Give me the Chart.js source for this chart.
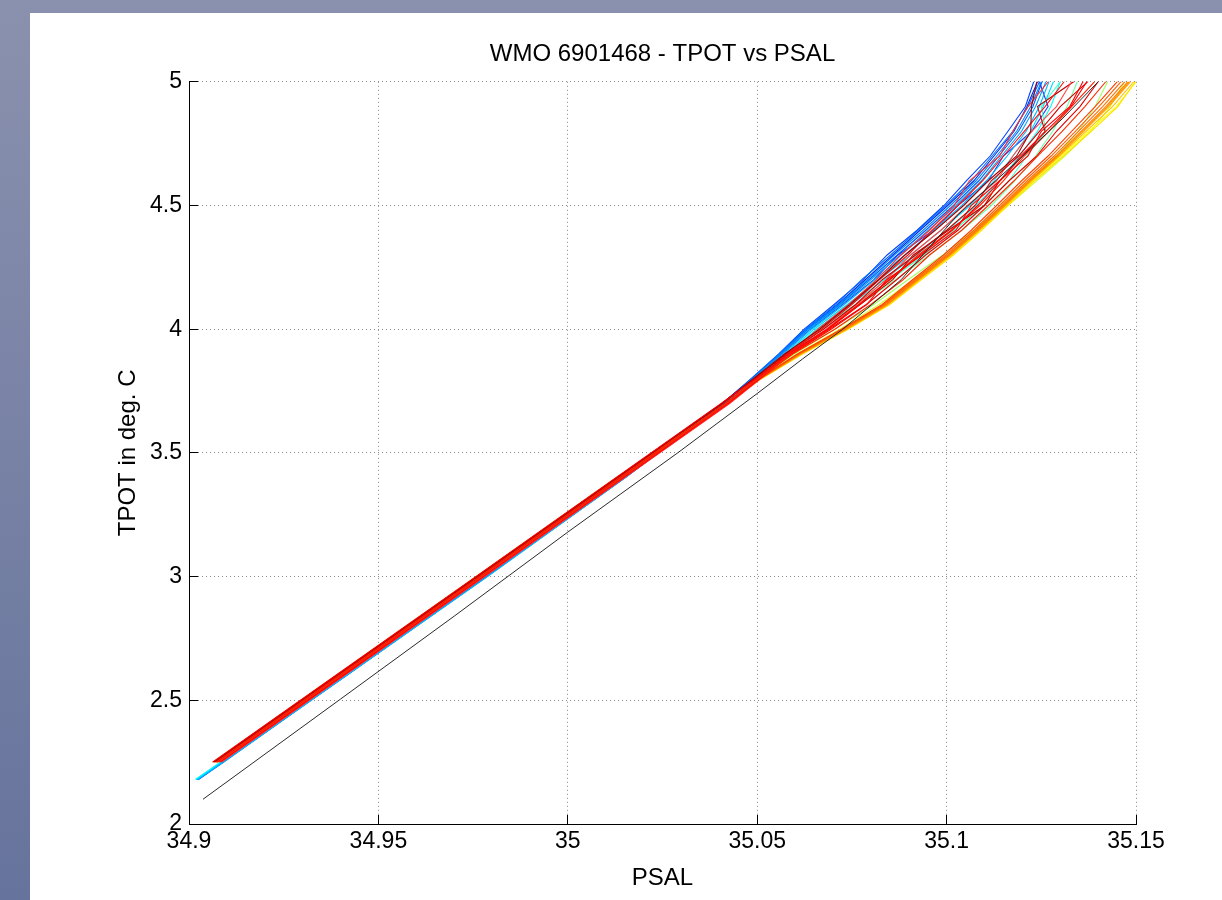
<!DOCTYPE html>
<html><head><meta charset="utf-8">
<script src="https://cdn.jsdelivr.net/npm/chart.js@4/dist/chart.umd.min.js"></script>
<style>
html,body{margin:0;padding:0;width:1222px;height:900px;overflow:hidden;background:linear-gradient(180deg,#8a91ae 0%,#66739c 100%);}
#panel{position:absolute;left:30px;top:13px;width:1192px;height:887px;background:#fff;}
canvas{display:block;}
</style></head>
<body><div id="panel"><canvas id="c" width="1192" height="887"></canvas></div>
<script>
// ---- data ----
const chartTitle = 'WMO 6901468 - TPOT vs PSAL';
const xAxisTitle = 'PSAL';
const yAxisTitle = 'TPOT in deg. C';
const xTickValues = [34.9, 34.95, 35, 35.05, 35.1, 35.15];
const xTickLabels = ['34.9', '34.95', '35', '35.05', '35.1', '35.15'];
const yTickValues = [2, 2.5, 3, 3.5, 4, 4.5, 5];
const yTickLabels = ['2', '2.5', '3', '3.5', '4', '4.5', '5'];

// TPOT levels at which each profile's PSAL was read
const tpotLevels = [2.18, 2.25, 2.6, 3.0, 3.4, 3.7, 3.8, 3.9, 4.0, 4.1, 4.2, 4.3, 4.4, 4.5, 4.6, 4.7, 4.8, 4.9, 5.0, 5.1];

// blue cycles
const psalC01 = [34.9023, 34.9089, 34.9412, 34.9783, 35.0150, 35.0410, 35.0486, 35.0560, 35.0630, 35.0712, 35.0785, 35.0858, 35.0930, 35.1003, 35.1072, 35.1125, 35.1178, 35.1212, 35.1240, 35.1262];
const psalC02 = [34.9021, 34.9087, 34.9414, 34.9781, 35.0146, 35.0408, 35.0484, 35.0557, 35.0624, 35.0703, 35.0780, 35.0843, 35.0922, 35.0993, 35.1052, 35.1115, 35.1162, 35.1208, 35.1230, 35.1258];
const psalC03 = [34.9024, 34.9090, 34.9411, 34.9784, 35.0152, 35.0412, 35.0488, 35.0563, 35.0634, 35.0718, 35.0795, 35.0870, 35.0945, 35.1018, 35.1085, 35.1138, 35.1190, 35.1228, 35.1252, 35.1270];
const psalC04 = [34.9022, 34.9088, 34.9413, 34.9785, 35.0144, 35.0409, 35.0487, 35.0566, 35.0640, 35.0725, 35.0808, 35.0872, 35.0965, 35.1030, 35.1110, 35.1150, 35.1225, 35.1268, 35.1245, 35.1295];
const psalC05 = [34.9025, 34.9091, 34.9415, 34.9782, 35.0150, 35.0413, 35.0485, 35.0558, 35.0627, 35.0708, 35.0776, 35.0852, 35.0925, 35.0998, 35.1065, 35.1120, 35.1175, 35.1215, 35.1245, 35.1265];
const psalC06 = [34.9020, 34.9086, 34.9416, 34.9786, 35.0148, 35.0411, 35.0488, 35.0561, 35.0632, 35.0715, 35.0790, 35.0862, 35.0938, 35.1010, 35.1078, 35.1132, 35.1185, 35.1222, 35.1250, 35.1272];
const psalC07 = [34.9023, 34.9092, 34.9414, 34.9787, 35.0152, 35.0414, 35.0490, 35.0566, 35.0638, 35.0722, 35.0800, 35.0878, 35.0952, 35.1025, 35.1092, 35.1145, 35.1198, 35.1235, 35.1262, 35.1282];
const psalC08 = [34.9021, 34.9089, 34.9415, 34.9788, 35.0151, 35.0414, 35.0492, 35.0570, 35.0644, 35.0730, 35.0810, 35.0890, 35.0965, 35.1040, 35.1105, 35.1160, 35.1210, 35.1245, 35.1270, 35.1290];
// cyan / green cycles
const psalC09 = [34.9018, 34.9083, 34.9408, 34.9777, 35.0146, 35.0416, 35.0495, 35.0574, 35.0650, 35.0738, 35.0822, 35.0905, 35.0985, 35.1062, 35.1125, 35.1175, 35.1222, 35.1255, 35.1282, 35.1300];
const psalC10 = [34.9017, 34.9084, 34.9409, 34.9779, 35.0147, 35.0418, 35.0497, 35.0577, 35.0656, 35.0748, 35.0835, 35.0920, 35.1002, 35.1078, 35.1140, 35.1192, 35.1240, 35.1275, 35.1300, 35.1318];
const psalC11 = [null, 34.9070, 34.9393, 34.9764, 35.0133, 35.0416, 35.0500, 35.0580, 35.0664, 35.0760, 35.0852, 35.0940, 35.1020, 35.1098, 35.1165, 35.1212, 35.1262, 35.1250, 35.1300, 35.1330];
const psalC12 = [null, 34.9066, 34.9390, 34.9760, 35.0130, 35.0418, 35.0502, 35.0585, 35.0672, 35.0770, 35.0865, 35.0955, 35.1040, 35.1118, 35.1180, 35.1235, 35.1280, 35.1318, 35.1345, 35.1365];
const psalC13 = [null, 34.9065, 34.9389, 34.9759, 35.0129, 35.0420, 35.0505, 35.0598, 35.0705, 35.0808, 35.0898, 35.0990, 35.1072, 35.1150, 35.1222, 35.1290, 35.1348, 35.1392, 35.1425, 35.1445];
const psalC14 = [null, 34.9064, 34.9388, 34.9758, 35.0128, 35.0421, 35.0507, 35.0605, 35.0718, 35.0822, 35.0912, 35.1005, 35.1085, 35.1162, 35.1238, 35.1312, 35.1380, 35.1432, 35.1470, 35.1495];
// yellow / orange cycles
const psalC15 = [null, 34.9065, 34.9390, 34.9760, 35.0130, 35.0421, 35.0510, 35.0618, 35.0738, 35.0848, 35.0930, 35.1015, 35.1088, 35.1158, 35.1228, 35.1302, 35.1375, 35.1448, 35.1500, 35.1540];
const psalC16 = [null, 34.9066, 34.9391, 34.9761, 35.0131, 35.0422, 35.0511, 35.0620, 35.0740, 35.0850, 35.0933, 35.1018, 35.1092, 35.1162, 35.1232, 35.1308, 35.1382, 35.1452, 35.1498, 35.1535];
const psalC17 = [null, 34.9068, 34.9393, 34.9763, 35.0133, 35.0421, 35.0510, 35.0617, 35.0737, 35.0846, 35.0928, 35.1012, 35.1086, 35.1156, 35.1225, 35.1298, 35.1368, 35.1438, 35.1494, 35.1532];
const psalC18 = [null, 34.9070, 34.9395, 34.9765, 35.0135, 35.0421, 35.0509, 35.0615, 35.0735, 35.0844, 35.0926, 35.1010, 35.1085, 35.1155, 35.1222, 35.1295, 35.1362, 35.1428, 35.1485, 35.1525];
const psalC19 = [null, 34.9071, 34.9396, 34.9766, 35.0136, 35.0420, 35.0508, 35.0613, 35.0732, 35.0842, 35.0924, 35.1008, 35.1082, 35.1152, 35.1220, 35.1292, 35.1358, 35.1424, 35.1482, 35.1522];
const psalC20 = [null, 34.9072, 34.9397, 34.9767, 35.0137, 35.0420, 35.0508, 35.0612, 35.0730, 35.0840, 35.0922, 35.1006, 35.1080, 35.1150, 35.1218, 35.1290, 35.1355, 35.1420, 35.1478, 35.1520];
const psalC21 = [null, 34.9073, 34.9398, 34.9768, 35.0138, 35.0421, 35.0507, 35.0610, 35.0728, 35.0837, 35.0919, 35.1003, 35.1077, 35.1146, 35.1213, 35.1284, 35.1348, 35.1412, 35.1470, 35.1512];
const psalC22 = [null, 34.9074, 34.9399, 34.9769, 35.0139, 35.0420, 35.0506, 35.0608, 35.0725, 35.0834, 35.0915, 35.0998, 35.1072, 35.1140, 35.1206, 35.1276, 35.1340, 35.1402, 35.1460, 35.1505];
const psalC23 = [null, 34.9075, 34.9400, 34.9770, 35.0140, 35.0420, 35.0505, 35.0606, 35.0722, 35.0830, 35.0910, 35.0992, 35.1065, 35.1132, 35.1198, 35.1268, 35.1330, 35.1392, 35.1450, 35.1495];
// red cycles
const psalC24 = [null, 34.9074, 34.9398, 34.9768, 35.0138, 35.0415, 35.0500, 35.0588, 35.0690, 35.0788, 35.0868, 35.0945, 35.1030, 35.1100, 35.1165, 35.1238, 35.1290, 35.1352, 35.1400, 35.1430];
const psalC25 = [null, 34.9064, 34.9389, 34.9759, 35.0129, 35.0406, 35.0491, 35.0578, 35.0685, 35.0772, 35.0858, 35.0912, 35.1005, 35.1100, 35.1140, 35.1200, 35.1260, 35.1240, 35.1335, 35.1380];
const psalC26 = [null, 34.9084, 34.9409, 34.9779, 35.0149, 35.0426, 35.0506, 35.0585, 35.0682, 35.0762, 35.0840, 35.0905, 35.0985, 35.1055, 35.1132, 35.1175, 35.1225, 35.1290, 35.1330, 35.1365];
const psalC27 = [null, 34.9068, 34.9392, 34.9763, 35.0132, 35.0410, 35.0494, 35.0575, 35.0675, 35.0760, 35.0830, 35.0918, 35.1000, 35.1075, 35.1118, 35.1190, 35.1245, 35.1300, 35.1372, 35.1410];
const psalC28 = [null, 34.9086, 34.9410, 34.9781, 35.0150, 35.0428, 35.0509, 35.0582, 35.0660, 35.0742, 35.0815, 35.0880, 35.0955, 35.1020, 35.1060, 35.1140, 35.1175, 35.1215, 35.1268, 35.1300];
const psalC29 = [null, 34.9071, 34.9395, 34.9766, 35.0135, 35.0417, 35.0499, 35.0590, 35.0688, 35.0770, 35.0848, 35.0925, 35.1012, 35.1088, 35.1150, 35.1205, 35.1270, 35.1330, 35.1390, 35.1428];
const psalC30 = [null, 34.9080, 34.9404, 34.9774, 35.0144, 35.0421, 35.0503, 35.0580, 35.0670, 35.0750, 35.0822, 35.0898, 35.0962, 35.1030, 35.1095, 35.1150, 35.1205, 35.1260, 35.1310, 35.1345];
const psalC31 = [null, 34.9066, 34.9390, 34.9761, 35.0131, 35.0408, 35.0490, 35.0572, 35.0665, 35.0745, 35.0820, 35.0890, 35.0970, 35.1045, 35.1110, 35.1185, 35.1222, 35.1224, 35.1238, 35.1250];
const psalC32 = [null, 34.9082, 34.9407, 34.9777, 35.0147, 35.0424, 35.0507, 35.0592, 35.0695, 35.0790, 35.0842, 35.0935, 35.1025, 35.1065, 35.1140, 35.1215, 35.1250, 35.1325, 35.1360, 35.1400];
const psalC33 = [null, 34.9077, 34.9401, 34.9772, 35.0142, 35.0419, 35.0502, 35.0594, 35.0705, 35.0800, 35.0885, 35.0955, 35.1040, 35.1110, 35.1178, 35.1240, 35.1305, 35.1365, 35.1420, 35.1455];
const psalC34 = [null, 34.9062, 34.9387, 34.9757, 35.0127, 35.0405, 35.0496, 35.0583, 35.0685, 35.0768, 35.0850, 35.0930, 35.1015, 35.1082, 35.1142, 35.1195, 35.1262, 35.1328, 35.1370, 35.1410];

const profileColors = [
  '#0028e8', '#0040ff', '#0058ff', '#3030e8', '#0070ff', '#0088ff', '#00a0ff', '#00b8ff',
  '#00d8ff', '#00ffff', '#40ffc0', '#70ffa0', '#a0ff60', '#d0ff30',
  '#ffff00', '#ffe000', '#ffc000', '#ffa000', '#ff9000', '#ff8000', '#ff7000', '#ff6000', '#ff4000',
  '#e00000', '#c00000', '#ff4a4a', '#d00000', '#ff3030', '#ff2000', '#ff1010', '#a00000', '#ff0000', '#ff2a00', '#ff0000'
];

// reference curve (black)
const refPsal = [34.9037, 34.9400, 34.9700, 35.0000, 35.0290, 35.0500, 35.0620, 35.0726, 35.0880, 35.1028, 35.1180, 35.1305, 35.1400, 35.1450];
const refTpot = [2.10, 2.505, 2.84, 3.18, 3.50, 3.74, 3.88, 4.00, 4.20, 4.46, 4.67, 4.85, 5.00, 5.10];

// ---- build chart ----
const profilePsal = [psalC01, psalC02, psalC03, psalC04, psalC05, psalC06, psalC07, psalC08, psalC09, psalC10,
  psalC11, psalC12, psalC13, psalC14, psalC15, psalC16, psalC17, psalC18, psalC19, psalC20,
  psalC21, psalC22, psalC23, psalC24, psalC25, psalC26, psalC27, psalC28, psalC29, psalC30,
  psalC31, psalC32, psalC33, psalC34];

const nProfiles = profilePsal.length;
const datasets = profilePsal.map((arr, i) => ({
  data: arr.map((s, k) => (s == null ? null : { x: s, y: tpotLevels[k] })).filter(p => p !== null),
  borderColor: profileColors[i],
  borderWidth: 1.1,
  pointRadius: 0,
  fill: false,
  tension: 0,
  order: nProfiles - i   // later cycles are drawn on top
}));
datasets.push({
  data: refPsal.map((s, k) => ({ x: s, y: refTpot[k] })),
  borderColor: '#2a2a2a',
  borderWidth: 1,
  pointRadius: 0,
  fill: false,
  tension: 0,
  order: 0
});

const FONT = '"Liberation Sans", Helvetica, Arial, sans-serif';
Chart.defaults.font.family = FONT;
Chart.defaults.color = '#000';

const align = v => Math.round(v - 0.5) + 0.5;
const inwardTicks = {
  id: 'inwardTicks',
  afterDraw(chart) {
    const { ctx, chartArea: a, scales: { x, y } } = chart;
    ctx.save();
    ctx.strokeStyle = '#000';
    ctx.lineWidth = 1;
    ctx.beginPath();
    x.ticks.forEach(t => { const px = align(x.getPixelForValue(t.value)); ctx.moveTo(px, a.bottom); ctx.lineTo(px, a.bottom - 9); });
    y.ticks.forEach(t => { const py = align(y.getPixelForValue(t.value)); ctx.moveTo(a.left, py); ctx.lineTo(a.left + 9, py); });
    ctx.stroke();
    ctx.restore();
  }
};

new Chart(document.getElementById('c'), {
  type: 'line',
  data: { datasets },
  plugins: [inwardTicks],
  options: {
    responsive: false,
    animation: false,
    devicePixelRatio: 1,
    layout: { padding: { left: 0, right: 86, top: 0, bottom: 0 } },
    plugins: {
      legend: { display: false },
      tooltip: { enabled: false },
      title: {
        display: true, text: chartTitle, fullSize: false, color: '#000',
        font: { size: 24, weight: 'normal', family: FONT },
        padding: { top: 27, bottom: 13 }
      }
    },
    scales: {
      x: {
        type: 'linear', min: 34.9, max: 35.15,
        afterBuildTicks: s => { s.ticks = xTickValues.map(v => ({ value: v })); },
        afterFit: s => { s.height = 76; },
        ticks: { callback: (v, i) => xTickLabels[i], font: { size: 23 }, color: '#000', padding: 4, maxRotation: 0, autoSkip: false },
        grid: { color: '#8a8a8a', lineWidth: 1, drawTicks: false },
        border: { display: true, color: '#000', width: 1, dash: [1, 3] },
        title: { display: true, text: xAxisTitle, color: '#000', font: { size: 24 }, padding: { top: 0, bottom: 7 } }
      },
      y: {
        type: 'linear', min: 2, max: 5,
        afterBuildTicks: s => { s.ticks = yTickValues.map(v => ({ value: v })); },
        afterFit: s => { s.width = 159; },
        ticks: { callback: (v, i) => yTickLabels[i], font: { size: 23 }, color: '#000', padding: 7, autoSkip: false },
        grid: { color: '#8a8a8a', lineWidth: 1, drawTicks: false },
        border: { display: true, color: '#000', width: 1, dash: [1, 3] },
        title: { display: true, text: yAxisTitle, color: '#000', font: { size: 24 }, padding: { top: 84, bottom: 0 } }
      }
    }
  }
});
</script>
</body></html>
